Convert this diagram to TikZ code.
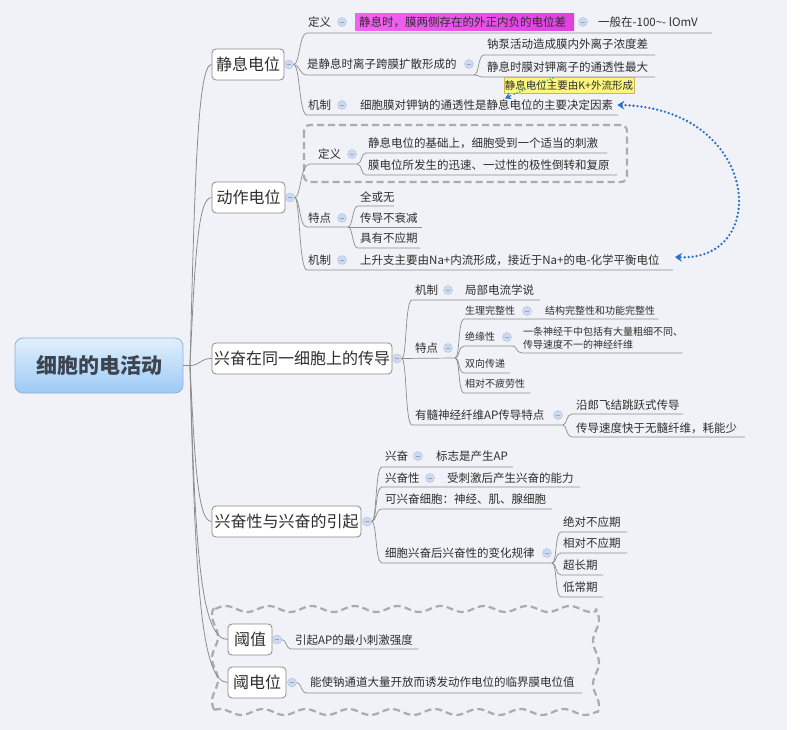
\documentclass[tikz,border=0pt]{standalone}
\usepackage{fontspec}
\setmainfont{Noto Sans CJK SC}
\usetikzlibrary{arrows.meta}
\definecolor{bg}{HTML}{F1F2F7}
\definecolor{ln}{HTML}{8C8C8C}
\definecolor{tx}{HTML}{2E2E2E}
\definecolor{boxc}{HTML}{8A8A8A}
\definecolor{mkf}{HTML}{CCD9EE}
\definecolor{mkd}{HTML}{B0C2DD}
\definecolor{mkm}{HTML}{8EA6CC}
\definecolor{dashc}{HTML}{ABABAB}
\definecolor{relblue}{HTML}{2A6FC9}
\definecolor{relteal}{HTML}{3E9C8E}
\definecolor{calloutf}{HTML}{FBF77C}
\definecolor{calloutd}{HTML}{C9B84A}
\definecolor{rootd}{HTML}{8FB3D9}
\definecolor{roott}{HTML}{E2EFFC}
\definecolor{rootb}{HTML}{9CCAF6}
\definecolor{roottx}{HTML}{3C4450}
\definecolor{magl}{HTML}{F462F4}
\definecolor{magr}{HTML}{E040E0}
\begin{document}
\begin{tikzpicture}[x=1pt,y=-1pt,
  mainbox/.style={draw=boxc, line width=0.8pt, fill=white, rounded corners=4pt, inner sep=0pt, minimum height=31pt, text=tx, font=\fontsize{16}{16}\selectfont},
  tb/.style={anchor=west, inner sep=0pt, text=tx, font=\fontsize{11.5}{12}\selectfont},
  ts/.style={anchor=west, inner sep=0pt, text=tx, font=\fontsize{10}{13.5}\selectfont},
  mk/.style={circle, fill=mkf, draw=mkd, line width=0.4pt, minimum size=9pt, inner sep=0pt,
    path picture={\draw[mkm, line width=0.9pt] ([xshift=-2.2pt]path picture bounding box.center) -- ([xshift=2.2pt]path picture bounding box.center);}},
  ul/.style={draw=ln, line width=0.7pt},
  rootline/.style={draw=ln, line width=0.8pt},
]
\useasboundingbox (0,0) rectangle (800,730);
\fill[bg] (0,0) rectangle (787,730);
\fill[white] (787,0) rectangle (800,730);

% ---------- cloud around threshold topics
\draw[dashc, line width=2.2pt, dash pattern=on 7pt off 4pt, line join=round]
  plot[domain=0:381, samples=120, variable=\t] ({215+\t}, {609-3*sin(8.372*\t)})
  -- plot[domain=0:103, samples=40, variable=\t] ({596+3*sin(8.372*\t)}, {609+\t})
  -- plot[domain=0:381, samples=120, variable=\t] ({596-\t}, {712+3*sin(8.372*\t)})
  -- plot[domain=0:103, samples=40, variable=\t] ({215-3*sin(8.372*\t)}, {712-\t}) -- cycle;

% ---------- root
\node[draw=rootd, line width=0.8pt, rounded corners=8pt, top color=roott, bottom color=rootb,
  minimum width=168pt, minimum height=55pt, inner sep=0pt, text=roottx,
  font=\fontsize{21}{21}\selectfont\bfseries] (root) at (99,365.5) {细胞的电活动};

% ---------- main topics
\node[mainbox, minimum width=72pt] (b1) at (248,64.5) {静息电位};
\node[mainbox, minimum width=73pt] (b2) at (248.5,197.5) {动作电位};
\node[mainbox, minimum width=180pt] (b3) at (302,358.5) {兴奋在同一细胞上的传导};
\node[mainbox, minimum width=149pt] (b4) at (286.5,521.5) {兴奋性与兴奋的引起};
\node[mainbox, minimum width=44pt] (b5) at (250,639.5) {阈值};
\node[mainbox, minimum width=58pt] (b6) at (257,682.5) {阈电位};

\coordinate (hub) at (190,365.5);
\draw[rootline] (root.east) -- (hub);
\draw[rootline] (hub) .. controls (195,170) and (198,64.5) .. (b1.west);
\draw[rootline] (hub) .. controls (195,256) and (198,197.5) .. (b2.west);
\draw[rootline] (hub) .. controls (200,365.5) and (200,358.5) .. (b3.west);
\draw[rootline] (hub) .. controls (195,467) and (198,521.5) .. (b4.west);
\draw[rootline] (hub) .. controls (195,543) and (200,639.5) .. (b5.west);
\draw[rootline] (hub) .. controls (195,571) and (200,682.5) .. (b6.west);

% ---------- markers on main topics
\node[mk] (m1) at (289,64.5) {};
\node[mk] (m2) at (290,197.5) {};
\node[mk] (m3) at (397,358.5) {};
\node[mk] (m4) at (367,521.5) {};
\node[mk] (m5) at (277,639.5) {};
\node[mk] (m6) at (292,682.5) {};

% ================= Branch 1: 静息电位
\draw[ul] (m1.east) .. controls (300,64.5) and (299,33) .. (307,33) -- (712,33);
\draw[ul] (m1.east) .. controls (300,64.5) and (299,75) .. (307,75) -- (474,75);
\draw[ul] (m1.east) .. controls (300,64.5) and (299,115) .. (307,115) -- (618,115);

\node[tb] (d1) at (308,22) {定义};
\node[mk] (m11) at (342,22) {};
\node[inner sep=0pt, minimum width=219pt, minimum height=17pt, left color=magl, right color=magr] (hl) at (464.5,22.5) {};
\node[tb] (d1c) at (359,22) {静息时，膜两侧存在的外正内负的电位差};
\node[mk] (m111) at (583,22) {};
\node[tb] (d1cc) at (598,22) {一般在-100\textasciitilde- lOmV};

\node[tb] (s1) at (307,64) {是静息时离子跨膜扩散形成的};
\node[mk] (m12) at (469,64) {};
\draw[ul] (474,75) .. controls (479,75) and (478,55) .. (484,55) -- (655,55);
\draw[ul] (474,75) .. controls (479,75) and (478,77) .. (484,77) -- (655,77);
\node[tb] (s1a) at (487,44) {钠泵活动造成膜内外离子浓度差};
\node[tb] (s1b) at (487,67) {静息时膜对钾离子的通透性最大};

\node[tb] (j1) at (308,105) {机制};
\node[mk] (m13) at (342,105) {};
\node[tb] (j1c) at (360,105) {细胞膜对钾钠的通透性是静息电位的主要决定因素};

% relationship with label
\node[draw=calloutd, line width=0.5pt, fill=calloutf, inner sep=1pt, minimum height=16pt,
  font=\fontsize{10.5}{11}\selectfont, text=tx] (lab) at (569,85) {静息电位主要由K+外流形成};
\draw[relteal, line width=1.8pt, dash pattern=on 0pt off 3pt, line cap=round] (553,78) -- (512,95);
\draw[relblue, line width=1.3pt, -{Stealth[length=6pt,width=7pt]}] (511,95.5) -- (505,98.5);

% ================= Branch 2: 动作电位
\draw[dashc, line width=2.2pt, dash pattern=on 7pt off 4pt, rounded corners=6pt] (304,125) rectangle (627,182);
\draw[ul] (m2.east) .. controls (301,197.5) and (300,164) .. (310,164) -- (357,164);
\draw[ul] (m2.east) .. controls (300,197.5) and (299,227) .. (307,227) -- (348,227);
\draw[ul] (m2.east) .. controls (300,197.5) and (299,270) .. (307,270) -- (673,270);

\node[tb] (d2) at (318,154) {定义};
\node[mk] (m21) at (352,154) {};
\draw[ul] (357,164) .. controls (362,164) and (361,153) .. (366,153) -- (607,153);
\draw[ul] (357,164) .. controls (362,164) and (361,175) .. (366,175) -- (617,175);
\node[tb] (d2a) at (368,143) {静息电位的基础上，细胞受到一个适当的刺激};
\node[tb] (d2b) at (368,165) {膜电位所发生的迅速、一过性的极性倒转和复原};

\node[tb] (t2) at (308,218) {特点};
\node[mk] (m22) at (342,218) {};
\draw[ul] (348,227) .. controls (353,227) and (352,206) .. (358,206) -- (394,206);
\draw[ul] (348,227) -- (422,227);
\draw[ul] (348,227) .. controls (353,227) and (352,248) .. (358,248) -- (420,248);
\node[tb] (t2a) at (360,197) {全或无};
\node[tb] (t2b) at (360,218) {传导不衰减};
\node[tb] (t2c) at (360,238) {具有不应期};

\node[tb] (j2) at (308,260) {机制};
\node[mk] (m23) at (342,260) {};
\node[tb] (j2c) at (360,260) {上升支主要由Na+内流形成，接近于Na+的电-化学平衡电位};

% big blue relationship
\draw[relblue, line width=2.6pt, dash pattern=on 0pt off 4pt, line cap=round,
  {Stealth[length=7pt,width=9pt,inset=2.5pt]}-{Stealth[length=7pt,width=9pt,inset=2.5pt]}]
  (j1c.east) ++(4,0) .. controls (760,108) and (772,262) .. (675,257);

% ================= Branch 3
\draw[ul] (m3.east) .. controls (407,358.5) and (405,300) .. (412,300) -- (540,300);
\draw[ul] (m3.east) -- (455,358);
\draw[ul] (m3.east) .. controls (407,358.5) and (405,425) .. (412,425) -- (563,425);

\node[tb] (j3) at (415,290) {机制};
\node[mk] (m31) at (448,290) {};
\node[tb] (j3c) at (465,290) {局部电流学说};

\node[tb] (t3) at (415,348) {特点};
\node[mk] (m32) at (448,348) {};
\draw[ul] (455,358) .. controls (460,358) and (458,319) .. (464,319) -- (658,319);
\draw[ul] (455,358) .. controls (460,358) and (458,346) .. (464,346) -- (513,346);
\draw[ul] (455,358) .. controls (460,358) and (458,373) .. (464,373) -- (510,373);
\draw[ul] (455,358) .. controls (460,358) and (458,393) .. (464,393) -- (530,393);
\node[ts] (t3a) at (465,311) {生理完整性};
\node[mk] (m321) at (527,311) {};
\node[ts] (t3ac) at (545,311) {结构完整性和功能完整性};
\node[ts] (t3b) at (465,337) {绝缘性};
\node[mk] (m322) at (507,337) {};
\draw[ul] (513,346) .. controls (517,346) and (516,353) .. (522,353) -- (682,353);
\node[ts, align=left] (t3bc) at (523,338) {一条神经干中包括有大量粗细不同、\\传导速度不一的神经纤维};
\node[ts] (t3c) at (465,364) {双向传递};
\node[ts] (t3d) at (465,384) {相对不疲劳性};

\node[tb] (y3) at (415,415) {有髓神经纤维AP传导特点};
\node[mk] (m33) at (558,415) {};
\draw[ul] (563,425) .. controls (567,425) and (566,414) .. (572,414) -- (683,414);
\draw[ul] (563,425) .. controls (567,425) and (566,437) .. (572,437) -- (745,437);
\node[tb] (y3a) at (576,405) {沿郎飞结跳跃式传导};
\node[tb] (y3b) at (576,428) {传导速度快于无髓纤维，耗能少};

% ================= Branch 4
\draw[ul] (m4.east) .. controls (377,521.5) and (375,467) .. (382,467) -- (513,467);
\draw[ul] (m4.east) .. controls (377,521.5) and (375,487) .. (382,487) -- (580,487);
\draw[ul] (m4.east) .. controls (377,521.5) and (375,509) .. (382,509) -- (552,509);
\draw[ul] (m4.east) .. controls (377,521.5) and (375,563) .. (382,563) -- (552,563);

\node[tb] (x4) at (385,456) {兴奋};
\node[mk] (m41) at (418,456) {};
\node[tb] (x4c) at (436,456) {标志是产生AP};
\node[tb] (xx4) at (385,478) {兴奋性};
\node[mk] (m42) at (430,478) {};
\node[tb] (xx4c) at (447,478) {受刺激后产生兴奋的能力};
\node[tb] (k4) at (385,499) {可兴奋细胞：神经、肌、腺细胞};
\node[tb] (g4) at (385,553) {细胞兴奋后兴奋性的变化规律};
\node[mk] (m44) at (547,553) {};
\draw[ul] (552,563) .. controls (557,563) and (555,532) .. (561,532) -- (627,532);
\draw[ul] (552,563) .. controls (557,563) and (555,553) .. (561,553) -- (627,553);
\draw[ul] (552,563) .. controls (557,563) and (555,575) .. (561,575) -- (603,575);
\draw[ul] (552,563) .. controls (557,563) and (555,597) .. (561,597) -- (603,597);
\node[tb] (g4a) at (563,522) {绝对不应期};
\node[tb] (g4b) at (563,543) {相对不应期};
\node[tb] (g4c) at (563,565) {超长期};
\node[tb] (g4d) at (563,587) {低常期};

% ================= Branch 5, 6
\draw[ul] (m5.east) .. controls (287,639.5) and (285,649) .. (292,649) -- (418,649);
\node[tb] (y5) at (295,640) {引起AP的最小刺激强度};
\draw[ul] (m6.east) .. controls (302,682.5) and (300,693) .. (307,693) -- (582,693);
\node[tb] (y6) at (310,682) {能使钠通道大量开放而诱发动作电位的临界膜电位值};
\end{tikzpicture}
\end{document}
